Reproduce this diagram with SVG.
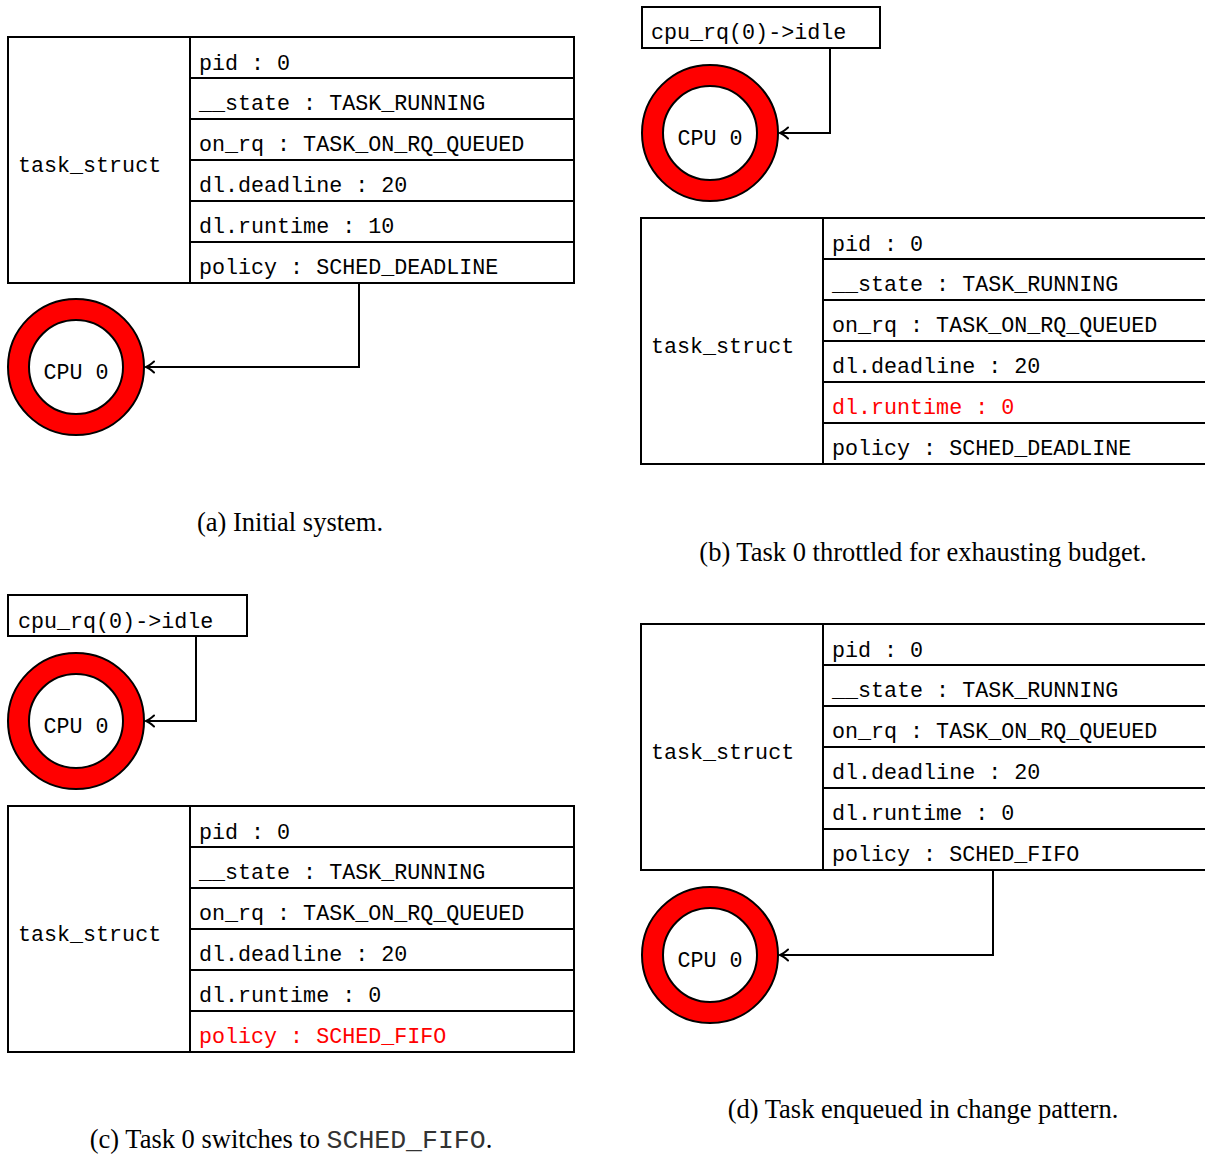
<svg xmlns="http://www.w3.org/2000/svg" width="1205" height="1155" viewBox="0 0 1205 1155">
  <style>
    .box { fill: #ffffff; stroke: #000000; stroke-width: 2; }
    .rule { stroke: #000000; stroke-width: 2; fill: none; }
    .tt { font-family: "Liberation Mono", "DejaVu Sans Mono", monospace; font-size: 21.7px; fill: #000000; }
    .hl { fill: #ff0000; }
    .ring { fill: #ff0000; stroke: #000000; stroke-width: 2; }
    .core { fill: #ffffff; stroke: #000000; stroke-width: 2; }
    .wire { fill: none; stroke: #000000; stroke-width: 2; marker-end: url(#head); }
    .cap { font-family: "Liberation Serif", "Times New Roman", serif; font-size: 26.5px; fill: #000000; text-anchor: middle; }
    .captt { font-family: "Liberation Mono", monospace; fill: #333333; }
  </style>
  <defs>
    <marker id="head" markerUnits="userSpaceOnUse" markerWidth="14" markerHeight="14" viewBox="-10 -7 12 14" refX="0" refY="0" orient="auto">
      <path d="M -8 -5.5 Q -3 -1 0 0 Q -3 1 -8 5.5" fill="none" stroke="#000000" stroke-width="2" stroke-linecap="round"/>
    </marker>
  </defs>

  <!-- (a) Initial system -->
  <g id="a-task">
    <rect class="box" x="8" y="37" width="566" height="246"/>
    <line class="rule" x1="190" y1="37" x2="190" y2="283"/>
    <line class="rule" x1="190" y1="78" x2="574" y2="78"/>
    <line class="rule" x1="190" y1="119" x2="574" y2="119"/>
    <line class="rule" x1="190" y1="160" x2="574" y2="160"/>
    <line class="rule" x1="190" y1="201" x2="574" y2="201"/>
    <line class="rule" x1="190" y1="242" x2="574" y2="242"/>
    <text class="tt" x="18" y="172">task_struct</text>
    <text class="tt" x="199" y="70">pid : 0</text>
    <text class="tt" x="199" y="110">__state : TASK_RUNNING</text>
    <text class="tt" x="199" y="151">on_rq : TASK_ON_RQ_QUEUED</text>
    <text class="tt" x="199" y="192">dl.deadline : 20</text>
    <text class="tt" x="199" y="233">dl.runtime : 10</text>
    <text class="tt" x="199" y="274">policy : SCHED_DEADLINE</text>
  </g>
  <g id="a-cpu">
    <circle class="ring" cx="76" cy="367" r="68"/>
    <circle class="core" cx="76" cy="367" r="47"/>
    <text class="tt" x="76" y="379" text-anchor="middle">CPU 0</text>
  </g>

  <!-- (b) Task 0 throttled -->
  <g id="b-idle">
    <rect class="box" x="642" y="7" width="238" height="41"/>
    <text class="tt" x="651" y="39">cpu_rq(0)-&gt;idle</text>
  </g>
  <g id="b-cpu">
    <circle class="ring" cx="710" cy="133" r="68"/>
    <circle class="core" cx="710" cy="133" r="47"/>
    <text class="tt" x="710" y="145" text-anchor="middle">CPU 0</text>
  </g>
  <g id="b-task">
    <rect class="box" x="641" y="218" width="580" height="246"/>
    <line class="rule" x1="823" y1="218" x2="823" y2="464"/>
    <line class="rule" x1="823" y1="259" x2="1210" y2="259"/>
    <line class="rule" x1="823" y1="300" x2="1210" y2="300"/>
    <line class="rule" x1="823" y1="341" x2="1210" y2="341"/>
    <line class="rule" x1="823" y1="382" x2="1210" y2="382"/>
    <line class="rule" x1="823" y1="423" x2="1210" y2="423"/>
    <text class="tt" x="651" y="353">task_struct</text>
    <text class="tt" x="832" y="251">pid : 0</text>
    <text class="tt" x="832" y="291">__state : TASK_RUNNING</text>
    <text class="tt" x="832" y="332">on_rq : TASK_ON_RQ_QUEUED</text>
    <text class="tt" x="832" y="373">dl.deadline : 20</text>
    <text class="tt hl" x="832" y="414">dl.runtime : 0</text>
    <text class="tt" x="832" y="455">policy : SCHED_DEADLINE</text>
  </g>

  <!-- (c) Task 0 switches to SCHED_FIFO -->
  <g id="c-idle">
    <rect class="box" x="8" y="595" width="239" height="41"/>
    <text class="tt" x="18" y="628">cpu_rq(0)-&gt;idle</text>
  </g>
  <g id="c-cpu">
    <circle class="ring" cx="76" cy="721" r="68"/>
    <circle class="core" cx="76" cy="721" r="47"/>
    <text class="tt" x="76" y="733" text-anchor="middle">CPU 0</text>
  </g>
  <g id="c-task">
    <rect class="box" x="8" y="806" width="566" height="246"/>
    <line class="rule" x1="190" y1="806" x2="190" y2="1052"/>
    <line class="rule" x1="190" y1="847" x2="574" y2="847"/>
    <line class="rule" x1="190" y1="888" x2="574" y2="888"/>
    <line class="rule" x1="190" y1="929" x2="574" y2="929"/>
    <line class="rule" x1="190" y1="970" x2="574" y2="970"/>
    <line class="rule" x1="190" y1="1011" x2="574" y2="1011"/>
    <text class="tt" x="18" y="941">task_struct</text>
    <text class="tt" x="199" y="839">pid : 0</text>
    <text class="tt" x="199" y="879">__state : TASK_RUNNING</text>
    <text class="tt" x="199" y="920">on_rq : TASK_ON_RQ_QUEUED</text>
    <text class="tt" x="199" y="961">dl.deadline : 20</text>
    <text class="tt" x="199" y="1002">dl.runtime : 0</text>
    <text class="tt hl" x="199" y="1043">policy : SCHED_FIFO</text>
  </g>

  <!-- (d) Task enqueued in change pattern -->
  <g id="d-task">
    <rect class="box" x="641" y="624" width="580" height="246"/>
    <line class="rule" x1="823" y1="624" x2="823" y2="870"/>
    <line class="rule" x1="823" y1="665" x2="1210" y2="665"/>
    <line class="rule" x1="823" y1="706" x2="1210" y2="706"/>
    <line class="rule" x1="823" y1="747" x2="1210" y2="747"/>
    <line class="rule" x1="823" y1="788" x2="1210" y2="788"/>
    <line class="rule" x1="823" y1="829" x2="1210" y2="829"/>
    <text class="tt" x="651" y="759">task_struct</text>
    <text class="tt" x="832" y="657">pid : 0</text>
    <text class="tt" x="832" y="697">__state : TASK_RUNNING</text>
    <text class="tt" x="832" y="738">on_rq : TASK_ON_RQ_QUEUED</text>
    <text class="tt" x="832" y="779">dl.deadline : 20</text>
    <text class="tt" x="832" y="820">dl.runtime : 0</text>
    <text class="tt" x="832" y="861">policy : SCHED_FIFO</text>
  </g>
  <g id="d-cpu">
    <circle class="ring" cx="710" cy="955" r="68"/>
    <circle class="core" cx="710" cy="955" r="47"/>
    <text class="tt" x="710" y="967" text-anchor="middle">CPU 0</text>
  </g>

  <!-- connectors -->
  <g id="connectors">
    <path class="wire" d="M 359 283 V 367 H 146"/>
    <path class="wire" d="M 830 48 V 133 H 780"/>
    <path class="wire" d="M 196 636 V 721 H 146"/>
    <path class="wire" d="M 993 870 V 955 H 780"/>
  </g>

  <!-- captions -->
  <g id="captions">
    <text class="cap" x="290" y="531">(a) Initial system.</text>
    <text class="cap" x="923" y="561">(b) Task 0 throttled for exhausting budget.</text>
    <text class="cap" x="291" y="1148">(c) Task 0 switches to <tspan class="captt">SCHED_FIFO</tspan>.</text>
    <text class="cap" x="923" y="1118">(d) Task enqueued in change pattern.</text>
  </g>
</svg>
